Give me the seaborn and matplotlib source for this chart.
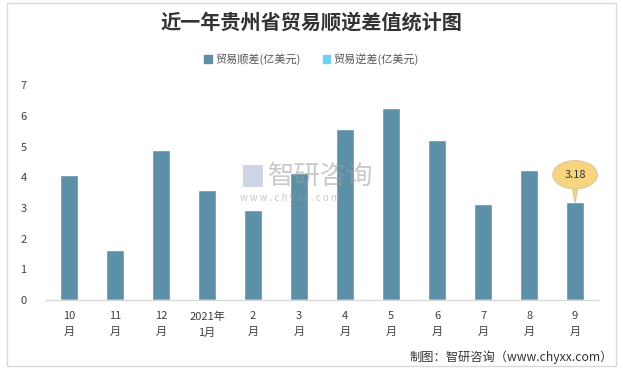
import matplotlib
matplotlib.use("Agg")
import matplotlib.pyplot as plt
import matplotlib.patches as mpatches
import seaborn as sns
import pandas as pd

months = ["10\n月", "11\n月", "12\n月", "2021年\n1月", "2\n月", "3\n月", "4\n月",
          "5\n月", "6\n月", "7\n月", "8\n月", "9\n月"]
surplus = [4.08, 1.63, 4.90, 3.59, 2.94, 4.14, 5.56, 6.27, 5.20, 3.14, 4.22, 3.18]
series_names = ["贸易顺差(亿美元)", "贸易逆差(亿美元)"]
yticks = [0, 1, 2, 3, 4, 5, 6, 7]

sns.set_theme(style="white")
plt.rcParams['font.family'] = ['Noto Sans CJK SC', 'DejaVu Sans']

bar_color = "#5B90A8"
deficit_color = "#6FD0F5"

fig = plt.figure(figsize=(6.23, 3.70), dpi=100)
ax = fig.add_axes([0.074, 0.189, 0.886, 0.581])

df = pd.DataFrame({"month": months, "value": surplus})
sns.barplot(data=df, x="month", y="value", color=bar_color, width=0.39,
            saturation=1, ax=ax)

ax.set_ylim(0, 7)
ax.set_xlim(-0.5, len(months) - 0.5)
ax.set_yticks(yticks)
ax.set_yticklabels([str(t) for t in yticks], fontsize=8, color="#404040")
ax.set_xlabel("")
ax.set_ylabel("")
ax.tick_params(axis="x", labelsize=8, colors="#404040", length=0, pad=8)
for lbl in ax.get_xticklabels():
    lbl.set_linespacing(1.75)
ax.tick_params(axis="y", length=0, pad=14)
for s in ["top", "right", "left"]:
    ax.spines[s].set_visible(False)
ax.spines["bottom"].set_color("#D9D9D9")
ax.spines["bottom"].set_linewidth(1)

# callout for last bar
last = len(surplus) - 1
ax.annotate(f"{surplus[last]:.2f}", xy=(last, surplus[last]),
            xytext=(last, surplus[last] + 0.9),
            ha="center", va="center", fontsize=8, color="#333333",
            bbox=dict(boxstyle="ellipse,pad=0.45", fc="#F7D47E", ec="#D9C9A0", lw=0.8),
            arrowprops=dict(arrowstyle="wedge,tail_width=0.45,shrink_factor=0.5",
                            fc="#F7D47E", ec="#D9C9A0", lw=0.8, shrinkA=0, shrinkB=0))

# title
fig.text(0.5, 0.94, "近一年贵州省贸易顺逆差值统计图", ha="center", va="center",
         fontsize=14.5, fontweight="bold", color="#333333")

# legend
handles = [mpatches.Patch(color=bar_color, label=series_names[0]),
           mpatches.Patch(color=deficit_color, label=series_names[1])]
fig.legend(handles=handles, loc="center", bbox_to_anchor=(0.5, 0.84), ncol=2,
           frameon=False, fontsize=8, handlelength=0.7, handleheight=0.7,
           handletextpad=0.3, columnspacing=2.0, labelcolor="#555555")

# watermark
fig.text(0.43, 0.522, "智研咨询", fontsize=19, color="#9E9E9E", alpha=0.55,
         ha="left", va="center")
fig.text(0.385, 0.465, "w w w . c h y x x . c o m", fontsize=7, color="#9E9E9E", alpha=0.55,
         ha="left", va="center")
fig.patches.append(mpatches.Rectangle((0.39, 0.495), 0.032, 0.06, transform=fig.transFigure,
                                      fc="#B8C4DC", ec="none", alpha=0.7))

# footer
fig.text(0.983, 0.035, "制图：智研咨询（www.chyxx.com）", ha="right", va="center",
         fontsize=8.8, color="#333333")

# outer border
fig.patches.append(mpatches.Rectangle((0.012, 0.01), 0.976, 0.982, transform=fig.transFigure,
                                      fill=False, ec="#D9D9D9", lw=1))

fig.savefig("out.png", dpi=100)
